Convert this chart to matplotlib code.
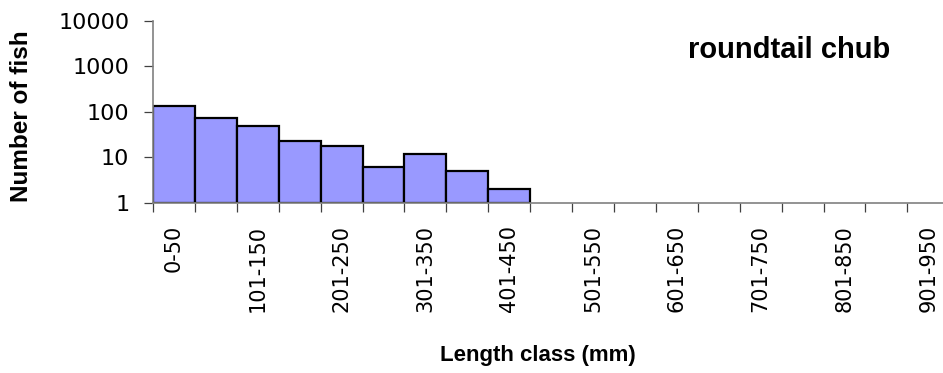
"""Length-frequency histogram for roundtail chub (log-scale counts)."""

import numpy as np
import matplotlib
matplotlib.use("Agg")
import matplotlib.pyplot as plt

# length classes (mm), 50 mm bins
classes = ["0-50", "51-100", "101-150", "151-200", "201-250", "251-300",
           "301-350", "351-400", "401-450", "451-500", "501-550", "551-600",
           "601-650", "651-700", "701-750", "751-800", "801-850", "851-900",
           "901-950"]
counts = [134, 75, 48, 23, 18, 6, 12, 5, 2, 0, 0, 0, 0, 0, 0, 0, 0, 0, 0]
y_ticks = [1, 10, 100, 1000, 10000]
y_ticklabels = ["1", "10", "100", "1000", "10000"]

W, H = 943, 373
fig = plt.figure(figsize=(W / 100, H / 100), dpi=100)
ax = fig.add_axes([153 / W, 1 - 202.7 / H, (949.3 - 153) / W, (202.7 - 21) / H])

x = np.arange(len(classes))
vals = np.array(counts, dtype=float)
has = vals > 0
ax.bar(x[has], vals[has] - 1, bottom=1, width=1.0, align="edge",
       color="#9999FF", edgecolor="black", linewidth=1.6, zorder=2)

ax.set_yscale("log")
ax.set_ylim(1, 10000)
ax.set_xlim(0, len(classes))
ax.set_yticks(y_ticks)
ax.set_yticklabels(y_ticklabels)
ax.yaxis.set_minor_locator(matplotlib.ticker.NullLocator())

# ticks on category boundaries, labels on every other category centre
ax.set_xticks(np.arange(len(classes) + 1))
ax.set_xticklabels([])
ax.set_xticks(x[::2] + 0.5, minor=True)
ax.set_xticklabels(classes[::2], minor=True, rotation=90, va="top",
                   fontsize=15, family="DejaVu Sans")
ax.tick_params(axis="x", which="major", length=6.5, width=0.9, color="#404040",
               direction="out")
ax.tick_params(axis="x", which="minor", length=0, pad=16)
ax.tick_params(axis="y", length=6.5, width=0.9, color="#404040", pad=10.5,
               labelsize=16)
for lab in ax.get_yticklabels():
    lab.set_family("DejaVu Sans")

for side in ("top", "right"):
    ax.spines[side].set_visible(False)
for side in ("left", "bottom"):
    ax.spines[side].set_color("#808080")
    ax.spines[side].set_linewidth(1.2)

fig.text(21.5 / W, 1 - 116 / H, "Number of fish", rotation=90, ha="center",
         va="center", fontsize=17.5, fontweight="bold", family="Liberation Sans")
fig.text(538 / W, 1 - 356 / H, "Length class (mm)", ha="center", va="center",
         fontsize=16, fontweight="bold", family="Liberation Sans")
fig.text(789 / W, 1 - 49.5 / H, "roundtail chub", ha="center", va="center",
         fontsize=21, fontweight="bold", family="Liberation Sans")

fig.savefig("out.png", dpi=100)
